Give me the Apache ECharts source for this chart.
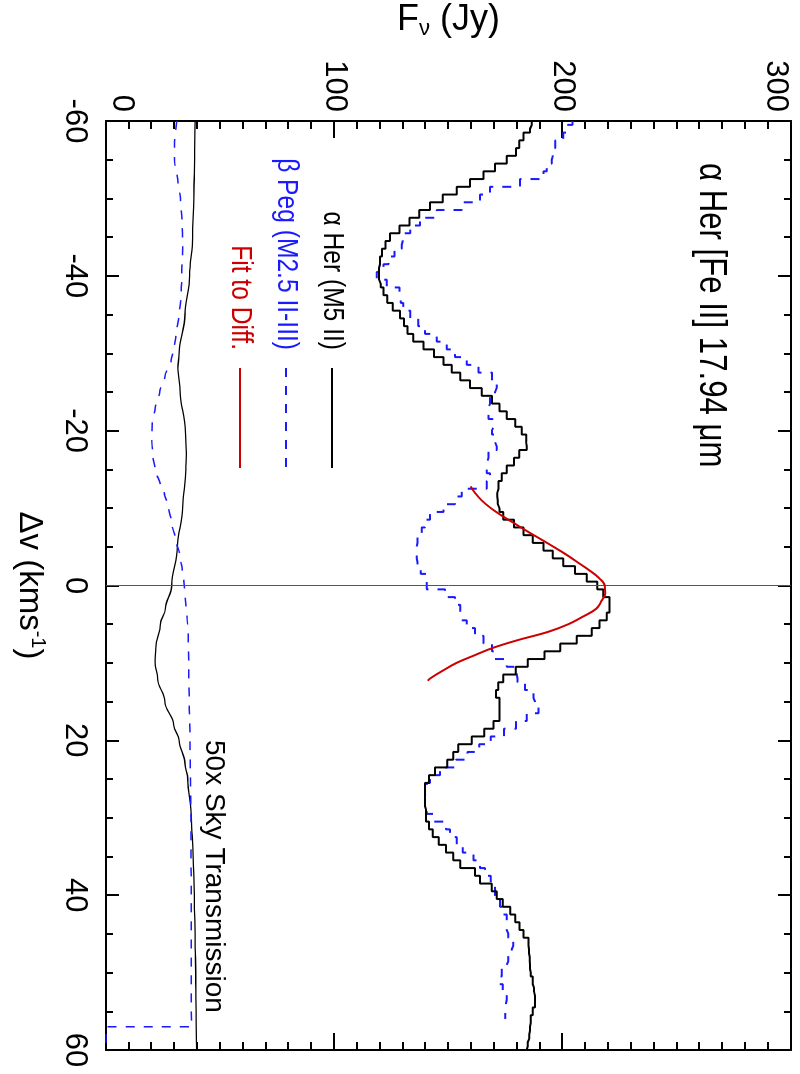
<!DOCTYPE html>
<html>
<head>
<meta charset="utf-8">
<script src="https://cdn.jsdelivr.net/npm/echarts@6/dist/echarts.min.js"></script>
<style>
  html, body { margin: 0; padding: 0; background: #fff; overflow: hidden; }
  /* The plot is laid out landscape (velocity along x) and turned a quarter
     turn clockwise onto the portrait page. */
  #chart {
    position: absolute; left: 0; top: 0;
    width: 1074px; height: 800px;
    transform-origin: 0 0;
    transform: translateX(800px) rotate(90deg);
  }
</style>
</head>
<body>
<div id="chart"></div>
<script>
// Velocity grid (km/s) of the spectra
const velocity = [
  -60, -59, -58, -57, -56, -55, -54, -53, -52, -51,
  -50, -49, -48, -47, -46, -45, -44, -43, -42, -41,
  -40, -39, -38, -37, -36, -35, -34, -33, -32, -31,
  -30, -29, -28, -27, -26, -25, -24, -23, -22, -21,
  -20, -19, -18, -17, -16, -15, -14, -13, -12, -11,
  -10, -9, -8, -7, -6, -5, -4, -3, -2, -1,
  0, 1, 2, 3, 4, 5, 6, 7, 8, 9,
  10, 11, 12, 13, 14, 15, 16, 17, 18, 19,
  20, 21, 22, 23, 24, 25, 26, 27, 28, 29,
  30, 31, 32, 33, 34, 35, 36, 37, 38, 39,
  40, 41, 42, 43, 44, 45, 46, 47, 48, 49,
  50, 51, 52, 53, 54, 55, 56, 57, 58, 59, 60
];

// alpha Her (M5 II) flux density, Jy
const herFlux = [
  186.5, 185.7, 182.8, 181.0, 179.6, 175.5, 170.4, 165.3, 159.4, 153.6,
  147.5, 141.9, 137.2, 132.9, 128.5, 124.4, 122.4, 120.9, 120.0, 119.6,
  119.6, 120.3, 121.5, 123.2, 125.6, 128.8, 130.5, 132.0, 134.6, 139.0,
  143.7, 147.8, 151.4, 155.1, 159.4, 164.6, 169.0, 172.3, 175.5, 179.2,
  182.1, 184.0, 184.3, 181.0, 178.7, 175.5, 173.3, 171.9, 171.4, 171.6,
  172.3, 174.0, 178.7, 182.8, 186.9, 191.6, 195.7, 200.3, 205.4, 210.5,
  215.2, 217.8, 220.5, 220.5, 219.3, 216.1, 212.7, 206.2, 198.9, 192.0,
  184.7, 179.4, 174.0, 171.8, 170.8, 172.3, 172.3, 172.3, 169.7, 165.7,
  160.2, 154.3, 152.1, 149.5, 144.1, 141.5, 139.7, 139.7, 139.7, 140.2,
  140.2, 141.5, 143.1, 145.7, 148.9, 152.1, 155.1, 161.6, 163.8, 168.9,
  171.1, 173.8, 177.0, 179.2, 181.1, 182.8, 185.0, 185.3, 185.6, 185.7,
  186.0, 186.9, 187.5, 187.9, 187.9, 186.9, 186.0, 185.7, 185.4, 184.7, 184.3
];

// beta Peg (M2.5 II-III) flux density, Jy (covers -60 .. 56 km/s)
const pegFlux = [
  204.3, 201.8, 200.3, 196.7, 195.7, 195.2, 193.0, 191.6, 181.3, 168.2,
  163.8, 155.8, 144.8, 137.5, 133.2, 130.0, 129.5, 126.3, 123.7, 121.5,
  118.6, 123.0, 128.5, 129.1, 130.2, 133.2, 136.8, 139.7, 144.8, 149.2,
  152.9, 158.0, 163.1, 169.0, 171.1, 170.4, 168.2, 167.5, 167.5, 169.7,
  169.0, 170.4, 171.1, 167.5, 167.0, 166.7, 168.2, 166.7, 155.8, 152.9,
  147.8, 141.9, 139.7, 138.3, 136.4, 136.1, 136.1, 136.4, 137.8, 140.5,
  140.5, 148.5, 152.9, 155.1, 155.8, 158.0, 161.6, 165.3, 169.0, 170.4,
  175.5, 179.9, 180.2, 183.5, 187.2, 187.9, 189.4, 184.3, 179.6, 174.3,
  168.5, 163.5, 158.3, 153.3, 146.3, 141.9, 140.5, 139.7, 139.7, 140.5,
  143.7, 148.9, 150.7, 153.6, 156.2, 160.9, 163.8, 166.0, 168.5, 170.4,
  170.4, 172.6, 174.0, 175.5, 175.5, 176.2, 178.4, 177.7, 176.2, 175.5,
  173.3, 172.3, 173.8, 175.5, 175.2, 174.8, 174.8
];

// Fit to the difference spectrum
const fitVel = [-12.8, -12, -11, -10, -9, -8, -7, -6, -5, -4, -3, -2, -1,
  0, 1, 2, 3, 4, 5, 6, 7, 8, 9, 10, 11, 12, 12.3];
const fitFlux = [159.7, 161.5, 164.5, 168.5, 173.5, 179.0, 184.5, 190.3, 196.0,
  201.5, 206.5, 211.5, 215.8, 218.4, 218.6, 217.0, 214.7, 209.0, 202.5, 193.5,
  181.0, 170.0, 161.5, 153.5, 147.5, 142.0, 140.9];

// 50x sky transmission for the alpha Her observation
const skyHerVel = [-60, -55, -50, -45, -40, -35, -30, -28, -25, -20, -17, -15,
  -10, -5, 0, 3, 5, 8, 10, 12, 15, 18, 20, 23, 25, 30, 35, 40, 45, 50, 55, 60];
const skyHer = [39.0, 38.8, 38.5, 37.9, 36.6, 34.6, 32.0, 31.5, 32.5, 34.8, 35.2,
  35.0, 33.6, 31.3, 28.8, 26.0, 23.8, 21.8, 21.5, 22.6, 25.8, 29.6, 32.0, 34.6,
  35.8, 37.4, 38.2, 38.7, 39.0, 39.3, 39.5, 39.7];

// 50x sky transmission for the beta Peg observation
const skyPegVel = [-60, -57, -55, -52, -50, -47, -44, -40, -37, -35, -33, -31,
  -29, -27, -25, -23, -21, -19, -17, -15, -13, -12, -10, -8, -6, -4, -2, 0, 2,
  4, 6, 10, 16, 20, 30, 40, 50, 57, 57, 60];
const skyPeg = [31.0, 30.0, 30.0, 31.5, 32.6, 33.3, 33.6, 33.2, 32.8, 32.0, 31.0,
  30.0, 28.5, 25.8, 23.5, 21.6, 20.3, 20.0, 20.4, 21.5, 23.8, 25.5, 27.5, 28.8,
  30.4, 32.2, 33.4, 34.3, 34.8, 35.5, 36.0, 36.2, 36.5, 36.8, 37.2, 37.3, 37.3,
  37.4, 0, 0];

const velTicks = { min: -60, max: 60, interval: 20 };
const fluxTicks = { min: 0, max: 300, interval: 100 };

const FONT = "'Liberation Sans', Arial, sans-serif";
const NARROW = 0.82;   // horizontal squeeze for the condensed lettering
const BLUE = '#1a1aff';
const RED = '#cc0000';

const pairs = (xs, ys) => ys.map((y, i) => [xs[i], y]);

const frameLine = { show: true, onZero: false, lineStyle: { color: '#000', width: 2 } };

function velAxis(position, showLabels) {
  return {
    type: 'value', position, min: velTicks.min, max: velTicks.max, interval: velTicks.interval,
    axisLine: frameLine,
    axisTick: { show: true, inside: true, length: 13, lineStyle: { color: '#000', width: 2 } },
    minorTick: { show: true, splitNumber: 4, length: 7, lineStyle: { color: '#000', width: 2 } },
    splitLine: { show: false }, minorSplitLine: { show: false },
    axisLabel: {
      show: showLabels, color: '#000', fontSize: 31, fontFamily: FONT, margin: 16,
      showMinLabel: true, showMaxLabel: true
    }
  };
}

function fluxAxis(position, showLabels) {
  return {
    type: 'value', position, min: fluxTicks.min, max: fluxTicks.max, interval: fluxTicks.interval,
    axisLine: frameLine,
    axisTick: { show: true, inside: true, length: 17, lineStyle: { color: '#000', width: 2 } },
    minorTick: { show: true, splitNumber: 10, length: 8, lineStyle: { color: '#000', width: 2 } },
    splitLine: { show: false }, minorSplitLine: { show: false },
    axisLabel: {
      show: showLabels, color: '#000', fontSize: 31, fontFamily: FONT, margin: 9,
      verticalAlignMinLabel: 'bottom', verticalAlignMaxLabel: 'top',
      showMinLabel: true, showMaxLabel: true
    }
  };
}

const xBottom = Object.assign(velAxis('bottom', true), {
  name: '{a|Δv (kms}{s|-1}{a|)}',
  nameLocation: 'middle', nameGap: 58,
  nameTextStyle: {
    color: '#000', fontFamily: FONT,
    rich: {
      a: { fontSize: 33, fontFamily: FONT, color: '#000', lineHeight: 38 },
      s: { fontSize: 20, fontFamily: FONT, color: '#000', verticalAlign: 'top', lineHeight: 38 }
    }
  }
});

const yLeft = Object.assign(fluxAxis('left', true), {
  name: '{a|F}{b|ν}{a| (Jy)}',
  nameLocation: 'middle', nameGap: 81, nameRotate: 90,
  nameTextStyle: {
    color: '#000', fontFamily: FONT,
    rich: {
      a: { fontSize: 36, fontFamily: FONT, color: '#000', lineHeight: 40 },
      b: { fontSize: 22, fontFamily: FONT, color: '#000', verticalAlign: 'bottom', lineHeight: 40, padding: [14, 0, 0, 0] }
    }
  }
});

const legendRows = [
  { label: 'α Her (M5 II)', color: '#000', dash: 'solid', y: 468 },
  { label: 'β Peg (M2.5 II-III)', color: BLUE, dash: [9, 9], y: 514 },
  { label: 'Fit to Diff.', color: RED, dash: 'solid', y: 560 }
];

const graphics = [
  {
    type: 'text', x: 163, y: 90, scaleX: NARROW,
    style: { text: 'α Her [Fe II] 17.94 μm', fontSize: 38, fontFamily: FONT, fill: '#000', align: 'left', verticalAlign: 'middle' }
  },
  {
    type: 'text', x: 740, y: 586,
    style: { text: '50x Sky Transmission', fontSize: 28, fontFamily: FONT, fill: '#000', align: 'left', verticalAlign: 'middle' }
  }
];
legendRows.forEach(r => {
  graphics.push({
    type: 'text', x: 350, y: r.y, scaleX: NARROW,
    style: { text: r.label, fontSize: 30, fontFamily: FONT, fill: r.color, align: 'right', verticalAlign: 'middle' }
  });
  graphics.push({
    type: 'line', shape: { x1: 368, y1: r.y, x2: 468, y2: r.y },
    style: { stroke: r.color, lineWidth: 2, lineDash: r.dash === 'solid' ? null : r.dash }
  });
});

const chart = echarts.init(document.getElementById('chart'), null, { renderer: 'canvas', width: 1074, height: 800 });
chart.setOption({
  animation: false,
  backgroundColor: '#fff',
  grid: { left: 121, right: 24, top: 9, bottom: 106, containLabel: false, outerBoundsMode: 'none' },
  xAxis: [xBottom, velAxis('top', false)],
  yAxis: [yLeft, fluxAxis('right', false)],
  graphic: graphics,
  series: [
    {
      name: 'α Her (M5 II)', type: 'line', step: 'middle', symbol: 'none',
      data: pairs(velocity, herFlux),
      lineStyle: { color: '#000', width: 2 }, z: 4,
      markLine: {
        silent: true, symbol: ['none', 'none'], label: { show: false },
        lineStyle: { color: '#555', width: 1, type: 'solid' },
        data: [{ xAxis: 0 }]
      }
    },
    {
      name: 'β Peg (M2.5 II-III)', type: 'line', step: 'middle', symbol: 'none',
      data: pairs(velocity, pegFlux),
      lineStyle: { color: BLUE, width: 2, type: [9, 9] }, z: 3
    },
    {
      name: 'Fit to Diff.', type: 'line', smooth: 0.4, symbol: 'none',
      data: pairs(fitVel, fitFlux),
      lineStyle: { color: RED, width: 2 }, z: 5
    },
    {
      name: 'Sky alpha Her', type: 'line', smooth: 0.4, smoothMonotone: 'x', symbol: 'none',
      data: pairs(skyHerVel, skyHer),
      lineStyle: { color: '#000', width: 1.3 }, z: 3
    },
    {
      name: 'Sky beta Peg', type: 'line', smooth: 0.3, smoothMonotone: 'x', symbol: 'none',
      data: pairs(skyPegVel, skyPeg),
      lineStyle: { color: BLUE, width: 1.5, type: [9, 9] }, z: 3
    }
  ]
});
</script>
</body>
</html>
